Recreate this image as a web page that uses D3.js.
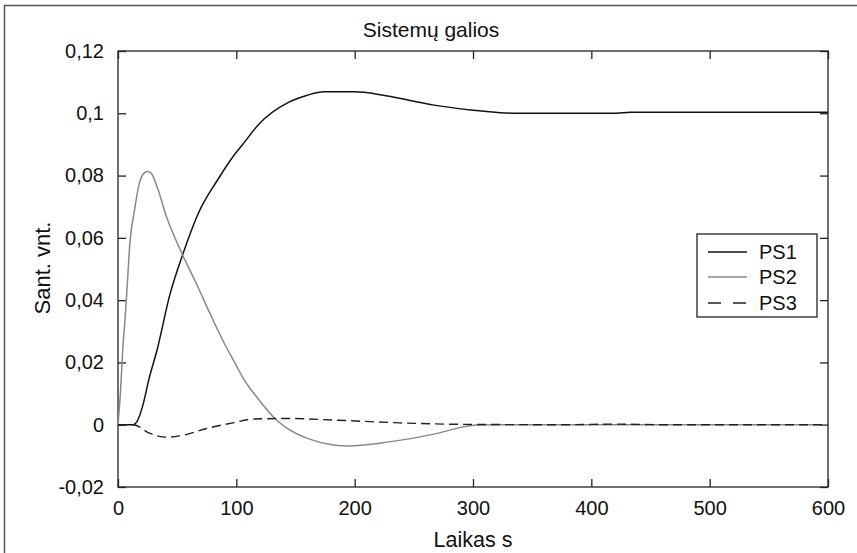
<!DOCTYPE html>
<html>
<head>
<meta charset="utf-8">
<script src="https://cdn.jsdelivr.net/npm/d3@7"></script>
<style>
  body { margin: 0; background: #fff; }
  svg { display: block; font-family: "Liberation Sans", Arial, sans-serif; }
</style>
</head>
<body>
<div id="chart"></div>
<script>
// series: [time s, value]
const ps1 = [[0,0],[10,0],[13,0],[16,0.001],[21,0.0062],[26,0.0144],[33,0.024],[44,0.042],[55,0.055],[68,0.068],
  [84,0.0785],[99,0.087],[105,0.0898],[119,0.0965],[144,0.1035],[160,0.1058],[174,0.1069],[200,0.1069],[223,0.1059],
  [251,0.1038],[266,0.1027],[300,0.101],[323,0.1002],[337,0.1],[421,0.1],[433,0.1003],[500,0.1003],[600,0.1003]];
const ps2 = [[0,0],[2,0.01],[4,0.024],[6,0.034],[8,0.046],[10,0.058],[14,0.069],[18,0.0775],[22,0.0808],[25,0.0813],
  [28,0.0808],[33,0.0764],[41,0.0668],[54,0.055],[66,0.0455],[78,0.0355],[90,0.026],[100,0.019],[106,0.0148],[118,0.0085],
  [134,0.0015],[143,-0.0012],[160,-0.0044],[182,-0.0065],[195,-0.0068],[224,-0.0058],[266,-0.0031],[303,-0.0001],
  [320,0],[600,0]];
const ps3 = [[0,0],[13,0],[27,-0.0028],[41,-0.004],[52,-0.0036],[75,-0.0012],[97,0.0006],[114,0.0018],[143,0.002],
  [182,0.0015],[238,0.0006],[295,0.0001],[380,0],[420,0.0002],[460,0],[600,0]];

const seriesNames = ["PS1", "PS2", "PS3"];
const xTicks = [0, 100, 200, 300, 400, 500, 600];
const yTicks = [-0.02, 0, 0.02, 0.04, 0.06, 0.08, 0.1, 0.12];
const yTickLabels = ["-0,02", "0", "0,02", "0,04", "0,06", "0,08", "0,1", "0,12"];

const W = 857, H = 553;
const margin = {top: 51, right: 29, bottom: 66, left: 118};
const width = W - margin.left - margin.right,
      height = H - margin.top - margin.bottom;

const svg = d3.select("#chart").append("svg")
    .attr("width", W)
    .attr("height", H);

// outer figure frame (cut by the picture edge on right/bottom)
svg.append("rect")
    .attr("x", 4.5).attr("y", 5.5)
    .attr("width", W + 20).attr("height", H + 20)
    .attr("fill", "none")
    .attr("stroke", "#555")
    .attr("stroke-width", 1.5);

const g = svg.append("g")
    .attr("transform", "translate(" + margin.left + "," + margin.top + ")");

const x = d3.scaleLinear().domain([0, 600]).range([0, width]);
const y = d3.scaleLinear().domain([-0.02, 0.12]).range([height, 0]);

// tick marks inside the box on every side
const tickLen = 8;
function styleAxis(sel) {
    sel.select(".domain").remove();
    sel.selectAll(".tick line").attr("stroke", "#222").attr("stroke-width", 1.3);
    sel.selectAll(".tick text").attr("fill", "#111").style("font-size", "20px");
}
g.append("g")
    .attr("transform", "translate(0," + height + ")")
    .call(d3.axisBottom(x).tickValues(xTicks).tickSizeInner(-tickLen).tickSizeOuter(0).tickPadding(14))
    .call(styleAxis);
g.append("g")
    .call(d3.axisTop(x).tickValues(xTicks).tickSizeInner(-tickLen).tickSizeOuter(0).tickFormat(""))
    .call(styleAxis);
g.append("g")
    .call(d3.axisLeft(y).tickValues(yTicks).tickSizeInner(-tickLen).tickSizeOuter(0).tickPadding(14)
        .tickFormat((d, i) => yTickLabels[i]))
    .call(styleAxis);
g.append("g")
    .attr("transform", "translate(" + width + ",0)")
    .call(d3.axisRight(y).tickValues(yTicks).tickSizeInner(-tickLen).tickSizeOuter(0).tickFormat(""))
    .call(styleAxis);

// plot box
g.append("rect")
    .attr("width", width).attr("height", height)
    .attr("fill", "none")
    .attr("stroke", "#222")
    .attr("stroke-width", 1.3);

// curves
const line = d3.line()
    .x(d => x(d[0]))
    .y(d => y(d[1]))
    .curve(d3.curveMonotoneX);

const styles = [
    {data: ps1, stroke: "#111", dash: null, w: 1.5},
    {data: ps2, stroke: "#888", dash: null, w: 1.5},
    {data: ps3, stroke: "#222", dash: "9,5", w: 1.4}
];
styles.forEach(s => {
    g.append("path")
        .datum(s.data)
        .attr("d", line)
        .attr("fill", "none")
        .attr("stroke", s.stroke)
        .attr("stroke-width", s.w)
        .attr("stroke-dasharray", s.dash);
});

// title and axis labels
svg.append("text")
    .attr("x", 431).attr("y", 37)
    .attr("text-anchor", "middle")
    .style("font-size", "21px")
    .attr("fill", "#111")
    .text("Sistemų galios");
svg.append("text")
    .attr("x", margin.left + width / 2).attr("y", 547)
    .attr("text-anchor", "middle")
    .style("font-size", "21.5px")
    .attr("fill", "#111")
    .text("Laikas s");
svg.append("text")
    .attr("transform", "translate(50," + (margin.top + height / 2 - 1) + ") rotate(-90)")
    .attr("text-anchor", "middle")
    .style("font-size", "22px")
    .attr("fill", "#111")
    .text("Sant. vnt.");

// legend
const legend = svg.append("g").attr("transform", "translate(697,234)");
legend.append("rect")
    .attr("width", 120).attr("height", 83)
    .attr("fill", "#fff")
    .attr("stroke", "#222")
    .attr("stroke-width", 1.3);
const legRows = [18, 43, 69];
seriesNames.forEach((name, i) => {
    legend.append("line")
        .attr("x1", 11).attr("x2", 50)
        .attr("y1", legRows[i]).attr("y2", legRows[i])
        .attr("stroke", styles[i].stroke)
        .attr("stroke-width", styles[i].w)
        .attr("stroke-dasharray", i === 2 ? "13,12" : null);
    legend.append("text")
        .attr("x", 62).attr("y", legRows[i])
        .attr("dy", "0.35em")
        .style("font-size", "20px")
        .attr("fill", "#111")
        .text(name);
});
</script>
</body>
</html>
